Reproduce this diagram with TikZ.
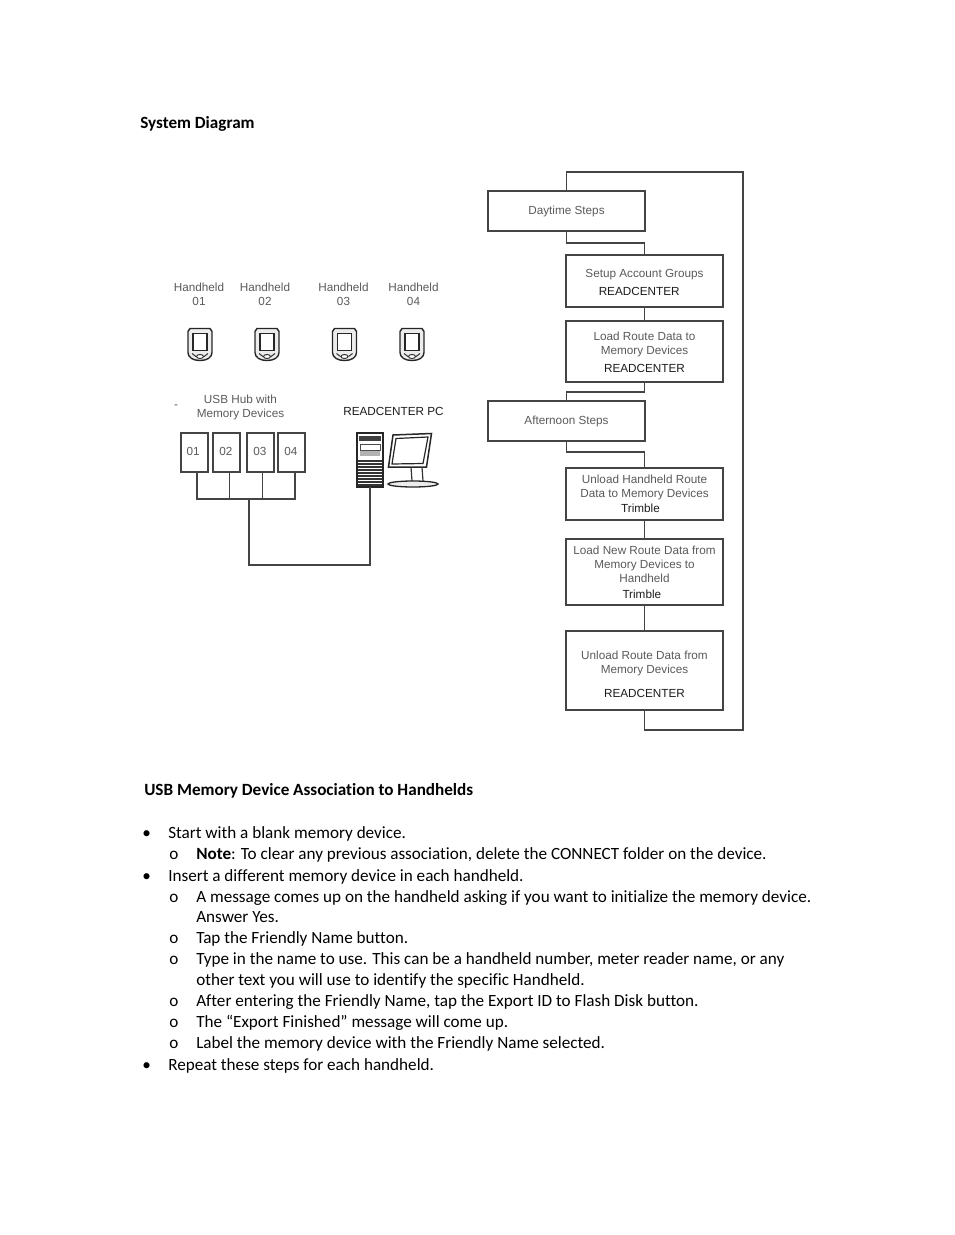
\documentclass[tikz,border=0pt]{standalone}
\usepackage{fontspec}
\setmainfont[Ligatures=NoCommon]{Carlito}
\newfontfamily\diagfont{Liberation Sans}
\usetikzlibrary{positioning, calc}

\def\raster{0.75pt}
\definecolor{linegray}{HTML}{444444}
\definecolor{labelgray}{HTML}{5A5A5A}
\definecolor{toolblack}{HTML}{1C1C1C}

\tikzset{
    link/.style={draw=linegray, line width=1.1*\raster},
    stepbox/.style 2 args={draw=linegray, line width=1.1*\raster, fill=white, inner sep=0pt, outer sep=0pt,
        minimum width=#1*\raster, minimum height=#2*\raster, align=center, text=labelgray,
        font=\diagfont\fontsize{8.8}{10.5}\selectfont},
    usbbox/.style={stepbox={27}{39}},
    diagtext/.style={inner sep=0pt, align=center, text=labelgray, font=\diagfont\fontsize{8.8}{10.5}\selectfont},
    bodytext/.style={inner sep=0pt, anchor=base west, text=black, font=\fontsize{12.85}{15}\selectfont},
    headtext/.style={bodytext, font=\bfseries\fontsize{12.85}{15}\selectfont},
    handheld/.pic={
        \draw[black!85, line width=1.4*\raster, fill=gray!15]
            (-12,-13) -- (-10,-16) -- (10,-16) -- (12,-13) -- (12,8)
            .. controls (12,13) and (7,16) .. (0,16)
            .. controls (-7,16) and (-12,13) .. (-12,8) -- cycle;
        \draw[black!85, line width=1.2*\raster, fill=white] (-7,-11) rectangle (7,6);
        \draw[black!80, line width=1*\raster] (-4,12) -- (-8,9) (4,12) -- (8,9);
        \draw[black!80, line width=1*\raster, fill=white] (0,12) ellipse (3.5 and 2);
    }
}

\begin{document}
\begin{tikzpicture}[x=\raster, y=-\raster]
        \useasboundingbox (0,0) rectangle (954,1235);

        \node[headtext] (sysdiagram) at (140,128) {System Diagram};

        % handhelds
        \foreach \name/\xtext/\xpic/\num in {hhone/199/200/01, hhtwo/265/267/02, hhthree/343.5/344.5/03, hhfour/413.5/412/04}
        {
            \node[diagtext] (\name) at (\xtext,294) {Handheld\\\num};
            \pic at (\xpic,344.5) {handheld};
        }

        % usb hub
        \node[diagtext] (hubdash) at (176,407) {-};
        \node[diagtext] (hubtext) at (240.5,407) {USB Hub with\\Memory Devices};
        \node[usbbox] (usbone) at (194.5,452.5) {\hspace*{-2pt}\raisebox{1.4pt}{01}};
        \node[usbbox] (usbtwo) at (226.5,452.5) {\hspace*{-1pt}\raisebox{1.4pt}{02}};
        \node[usbbox] (usbthree) at (260.5,452.5) {\hspace*{-1pt}\raisebox{1.4pt}{03}};
        \node[usbbox] (usbfour) at (291.5,452.5) {\hspace*{-1pt}\raisebox{1.4pt}{04}};

        % pc
        \node[diagtext, text=toolblack] (pctext) at (393.5,411) {READCENTER PC};
        \node[draw=black!85, line width=1.2*\raster, fill=white, inner sep=0pt, outer sep=0pt,
            minimum width=26*\raster, minimum height=54*\raster] (tower) at (370,460) {};
        \fill[black!75] (359,436) rectangle (381,441);
        \draw[black!70, line width=1*\raster] (360,444) rectangle (380,450);
        \fill[gray!60] (360,451) rectangle (380,456);
        \foreach \yline in {461,464,...,485}
        {
            \draw[black!80, line width=1.5*\raster] (358,\yline) -- (382,\yline);
        }
        \draw[black!85, line width=1.5*\raster] (393,435) -- (431.5,433.5) -- (426.5,467) -- (388.5,467) -- cycle;
        \draw[black!85, line width=1.2*\raster] (396,438.5) -- (428,437) -- (423,463.5) -- (392,464) -- cycle;
        \draw[black!80, line width=1.2*\raster] (411,467) -- (412,481) (422,467) -- (423,481);
        \draw[black!85, line width=1.3*\raster, fill=gray!15] (413,484) ellipse (25 and 3);

        % usb wiring
        \coordinate (busjoin) at (249,499);
        \coordinate (buscorner) at (249,565);
        \draw[link] ([xshift=2.5*\raster]usbone.south) |- (busjoin) -| ([xshift=3.5*\raster]usbfour.south);
        \foreach \name/\off in {usbtwo/3, usbthree/2}
        {
            \draw[link] ([xshift=\off*\raster]\name.south) -- ([xshift=\off*\raster]\name.south |- busjoin);
        }
        \draw[link] (busjoin) -- (buscorner) -| (tower.south);

        % steps
        \node[stepbox={157}{40}] (daytime) at (566.5,211) {Daytime Steps};
        \node[stepbox={157}{52}] (setup) at (644.5,281) {\rule{0pt}{7.9pt}Setup Account Groups\\[3pt]\hspace*{-8pt}\textcolor{toolblack}{READCENTER}};
        \node[stepbox={157}{61}] (loadroute) at (644.5,351.5) {\rule{0pt}{7.9pt}Load Route Data to\\Memory Devices\\[3pt]\textcolor{toolblack}{READCENTER}};
        \node[stepbox={157}{40}] (afternoon) at (566.5,421) {Afternoon Steps};
        \node[stepbox={157}{52}] (unloadhh) at (644.5,494) {Unload Handheld Route\\Data to Memory Devices\\[1pt]\hspace*{-6pt}\textcolor{toolblack}{Trimble}};
        \node[stepbox={157}{66}] (loadnew) at (644.5,572) {Load New Route Data from\\Memory Devices to\\Handheld\\[1.6pt]\hspace*{-4pt}\textcolor{toolblack}{Trimble}};
        \node[stepbox={157}{79}] (unloadroute) at (644.5,670.5) {\rule{0pt}{12pt}Unload Route Data from\\Memory Devices\\[7.5pt]\textcolor{toolblack}{READCENTER}};

        \coordinate (looptop) at (743,172);
        \coordinate (loopbottom) at (743,730);

        \draw[link] (daytime.south) -- ++(0,12) -| (setup.north);
        \draw[link] (setup.south) -- (loadroute.north);
        \draw[link] (loadroute.south) -- ++(0,10) -| (afternoon.north);
        \draw[link] (afternoon.south) -- ++(0,11) -| (unloadhh.north);
        \draw[link] (unloadhh.south) -- (loadnew.north);
        \draw[link] (loadnew.south) -- (unloadroute.north);
        \draw[link] (unloadroute.south) |- (loopbottom) -- (looptop) -| (daytime.north);

        % instructions
        \node[headtext] (usbhead) at (144,795) {USB Memory Device Association to Handhelds};

        \foreach \ypos in {838,881,1070}
        {
            \node[bodytext] (dot\ypos) at (142,\ypos) {•};
        }
        \foreach \ypos in {859,902,943,964,1006,1027,1048}
        {
            \node[bodytext] (sub\ypos) at (169,\ypos) {o};
        }

        \node[bodytext] (itema) at (168,838) {Start with a blank memory device.};
        \node[bodytext] (itemb) at (196,859) {\textbf{Note}: To clear any previous association, delete the CONNECT folder on the device.};
        \node[bodytext] (itemc) at (168,881) {Insert a different memory device in each handheld.};
        \node[bodytext] (itemd) at (196,902) {A message comes up on the handheld asking if you want to initialize the memory device.};
        \node[bodytext] (iteme) at (196,922) {Answer Yes.};
        \node[bodytext] (itemf) at (196,943) {Tap the Friendly Name button.};
        \node[bodytext] (itemg) at (196,964) {Type in the name to use. This can be a handheld number, meter reader name, or any};
        \node[bodytext] (itemh) at (196,985) {other text you will use to identify the specific Handheld.};
        \node[bodytext] (itemi) at (196,1006) {After entering the Friendly Name, tap the Export ID to Flash Disk button.};
        \node[bodytext] (itemj) at (196,1027) {The “Export Finished” message will come up.};
        \node[bodytext] (itemk) at (196,1048) {Label the memory device with the Friendly Name selected.};
        \node[bodytext] (iteml) at (168,1070) {Repeat these steps for each handheld.};
    \end{tikzpicture}
\end{document}
